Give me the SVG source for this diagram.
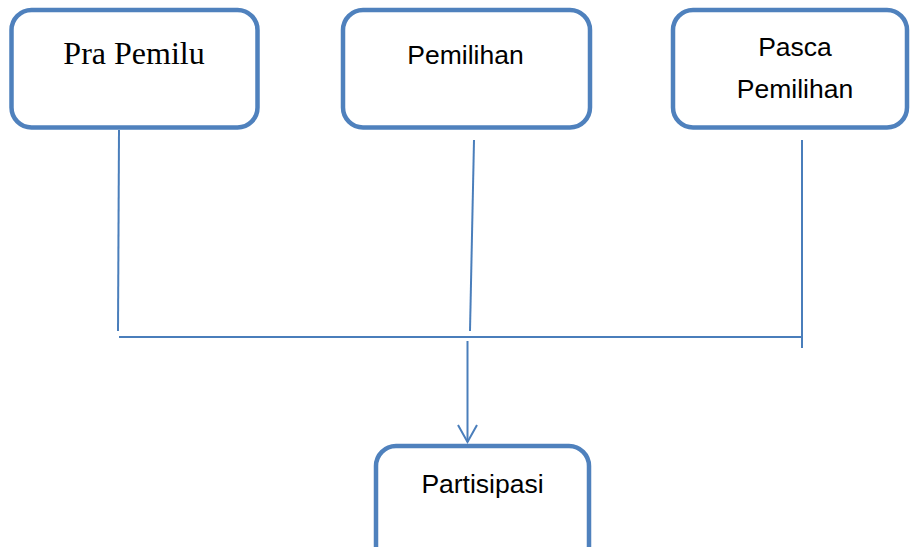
<svg xmlns="http://www.w3.org/2000/svg" width="911" height="547" viewBox="0 0 911 547">
<style>
.box{fill:#fff;stroke:#4f81bd;stroke-width:4.5}
.ser{font-family:"Liberation Serif",serif;font-size:32px;fill:#000}
.sans{font-family:"Liberation Sans",Arial,sans-serif;font-size:26.5px;fill:#000}
.ln{stroke:#4a7ebb;stroke-width:2;fill:none}
</style>
<defs>
<marker id="arr" markerUnits="userSpaceOnUse" markerWidth="24" markerHeight="22" refX="20" refY="10" orient="auto" viewBox="0 0 24 22">
<path d="M3 0.5 L20 10 L3 19.5" fill="none" stroke="#4a7ebb" stroke-width="2"/>
</marker>
</defs>
<rect width="911" height="547" fill="#fff"/>
<g id="pra-pemilu">
<rect class="box" x="11.5" y="10" width="246" height="117.5" rx="20"/>
<text class="ser" x="134" y="63.5" text-anchor="middle">Pra Pemilu</text>
</g>
<g id="pemilihan">
<rect class="box" x="343" y="10" width="247" height="117.5" rx="20"/>
<text class="sans" x="465.5" y="63.5" text-anchor="middle">Pemilihan</text>
</g>
<g id="pasca-pemilihan">
<rect class="box" x="673" y="10" width="234" height="117.5" rx="20"/>
<text class="sans" x="795" y="55.5" text-anchor="middle">Pasca</text>
<text class="sans" x="795" y="97.5" text-anchor="middle">Pemilihan</text>
</g>
<g id="partisipasi">
<rect class="box" x="376" y="446" width="213" height="120" rx="20"/>
<text class="sans" x="482.5" y="492.5" text-anchor="middle">Partisipasi</text>
</g>
<g id="connectors">
<line class="ln" x1="119" y1="130" x2="118" y2="331"/>
<line class="ln" x1="474" y1="140" x2="470" y2="331"/>
<line class="ln" x1="802" y1="140" x2="802" y2="348"/>
<line class="ln" x1="119" y1="337" x2="802" y2="337"/>
<line class="ln" x1="467.5" y1="341" x2="467.5" y2="442" marker-end="url(#arr)"/>
</g>
</svg>
